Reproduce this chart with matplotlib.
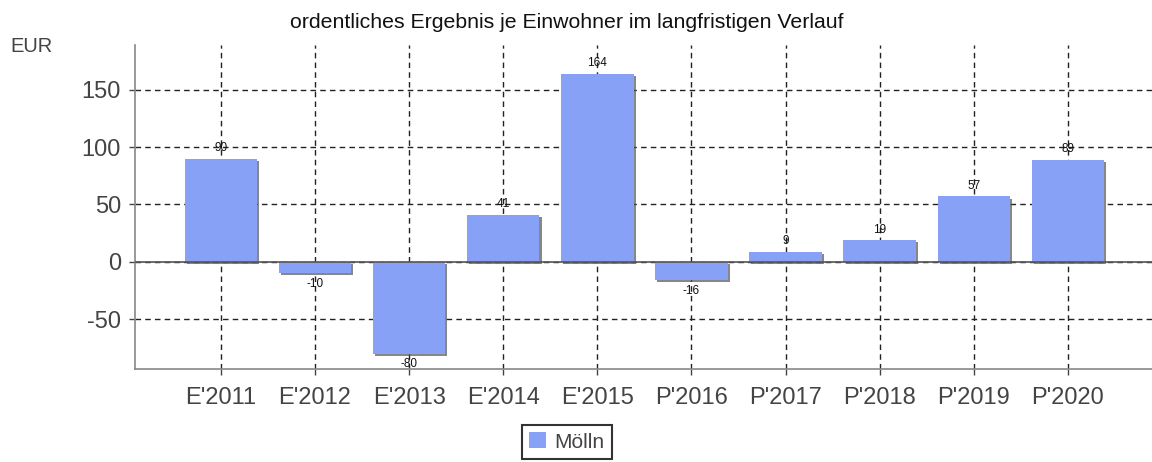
import matplotlib.pyplot as plt
import matplotlib.patheffects as pe

plt.rcParams['font.family'] = ['Liberation Sans', 'DejaVu Sans']
plt.rcParams['axes.unicode_minus'] = False

# Daten
jahre = ["E'2011", "E'2012", "E'2013", "E'2014", "E'2015",
         "P'2016", "P'2017", "P'2018", "P'2019", "P'2020"]
ergebnis = [90, -10, -80, 41, 164, -16, 9, 19, 57, 89]
y_ticks = [-50, 0, 50, 100, 150]

bar_color = '#87a1f7'
tick_color = '#444444'

fig = plt.figure(figsize=(11.52, 4.62), dpi=100)
ax = fig.add_axes([0.117, 0.2013, 0.886, 0.7013])

x = range(len(jahre))
bars = ax.bar(x, ergebnis, width=0.77, color=bar_color, zorder=2, label='Mölln')
for b in bars:
    b.set_path_effects([pe.SimplePatchShadow(offset=(1.5, -1.5), shadow_rgbFace='#555555', alpha=0.7),
                        pe.Normal()])

# Werte an den Balken
for i, v in enumerate(ergebnis):
    off = 7.5 if v >= 0 else -7.5
    ax.annotate(str(v), (i, v), xytext=(0, off), textcoords='offset points',
                ha='center', va='center', fontsize=8.5, color='#111111', zorder=4)

ax.axhline(0, color='#555555', linewidth=1.2, zorder=3)

ax.set_xlim(-0.915, 9.93)
ax.set_ylim(-93.4, 189)
ax.set_xticks(list(x))
ax.set_xticklabels(jahre)
ax.set_yticks(y_ticks)

ax.grid(True, linestyle=(0, (4, 3)), color='#222222', linewidth=1.0)
ax.set_axisbelow(True)

for s in ['top', 'right']:
    ax.spines[s].set_visible(False)
for s in ['left', 'bottom']:
    ax.spines[s].set_color('#888888')
    ax.spines[s].set_linewidth(1.2)

ax.tick_params(axis='both', labelsize=17, colors=tick_color, length=4, width=1)
ax.tick_params(axis='x', pad=9)
ax.tick_params(axis='y', pad=6)

fig.text(567 / 1152, 1 - 22 / 462, 'ordentliches Ergebnis je Einwohner im langfristigen Verlauf',
         ha='center', va='center', fontsize=15.3, color='#111111')
fig.text(10 / 1152, 1 - 46 / 462, 'EUR', ha='left', va='center', fontsize=14.5, color=tick_color)

leg = fig.legend(loc='center', bbox_to_anchor=(567 / 1152, 1 - 442 / 462), fontsize=15,
                 frameon=True, fancybox=False, handlelength=0.8, handleheight=0.8,
                 handletextpad=0.4, borderpad=0.35, labelcolor=tick_color)
leg.get_frame().set_edgecolor('black')
leg.get_frame().set_linewidth(1.5)
for h in leg.legend_handles:
    h.set_path_effects([])

fig.savefig('out.png', dpi=100)
